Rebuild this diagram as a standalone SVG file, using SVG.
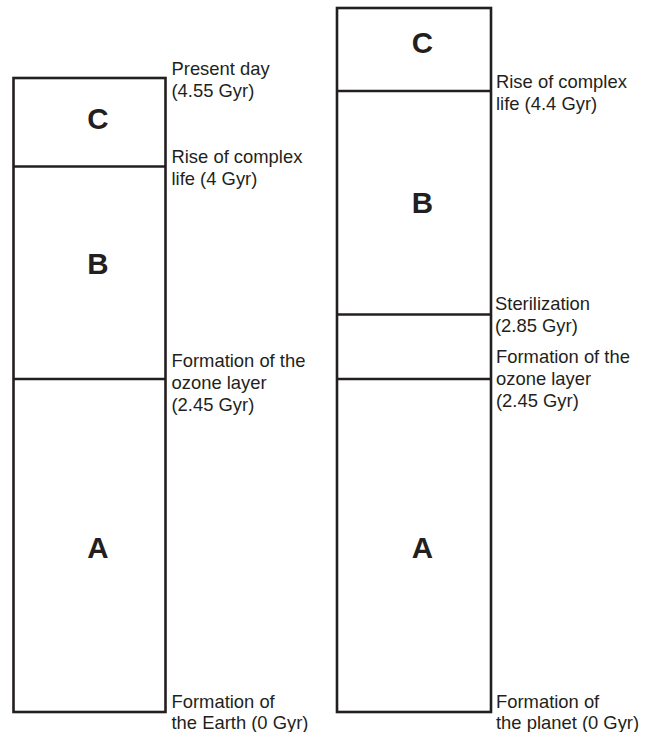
<svg xmlns="http://www.w3.org/2000/svg" width="652" height="732" viewBox="0 0 652 732">
<style>
.box{fill:#fff;stroke:#231f20;stroke-width:2.6}
.div{stroke:#231f20;stroke-width:2.6;fill:none}
.lbl{font-family:"Liberation Sans",Arial,sans-serif;font-size:18.4px;fill:#231f20}
.big{font-family:"Liberation Sans",Arial,sans-serif;font-size:29.5px;font-weight:bold;fill:#231f20;text-anchor:middle}
</style>
<rect width="652" height="732" fill="#fff"/>
<g id="earth-column">
<rect class="box" x="13.5" y="78" width="152" height="634"/>
<text class="big" x="98" y="129">C</text>
<text class="big" x="98" y="274">B</text>
<text class="big" x="98" y="558">A</text>
</g>
<g id="planet-column">
<rect class="box" x="337" y="8" width="154" height="704"/>
<text class="big" x="422.5" y="53">C</text>
<text class="big" x="422.5" y="213">B</text>
<text class="big" x="422.5" y="558">A</text>
</g>
<g id="connectors">
<line class="div" x1="13.5" y1="166.5" x2="165.5" y2="166.5"/>
<line class="div" x1="13.5" y1="379" x2="165.5" y2="379"/>
<line class="div" x1="337" y1="91" x2="491" y2="91"/>
<line class="div" x1="337" y1="314.5" x2="491" y2="314.5"/>
<line class="div" x1="337" y1="379" x2="491" y2="379"/>
</g>
<g id="earth-labels">
<text class="lbl" x="171.5" y="75">Present day</text>
<text class="lbl" x="171.5" y="97">(4.55 Gyr)</text>
<text class="lbl" x="171.5" y="163">Rise of complex</text>
<text class="lbl" x="171.5" y="185">life (4 Gyr)</text>
<text class="lbl" x="171.5" y="367">Formation of the</text>
<text class="lbl" x="171.5" y="389">ozone layer</text>
<text class="lbl" x="171.5" y="411">(2.45 Gyr)</text>
<text class="lbl" x="171.5" y="708">Formation of</text>
<text class="lbl" x="171.5" y="729">the Earth (0 Gyr)</text>
</g>
<g id="planet-labels">
<text class="lbl" x="496" y="88">Rise of complex</text>
<text class="lbl" x="496" y="110">life (4.4 Gyr)</text>
<text class="lbl" x="495" y="310">Sterilization</text>
<text class="lbl" x="495" y="332">(2.85 Gyr)</text>
<text class="lbl" x="496" y="363">Formation of the</text>
<text class="lbl" x="496" y="385">ozone layer</text>
<text class="lbl" x="496" y="407">(2.45 Gyr)</text>
<text class="lbl" x="496" y="708">Formation of</text>
<text class="lbl" x="496" y="729">the planet (0 Gyr)</text>
</g>
</svg>
